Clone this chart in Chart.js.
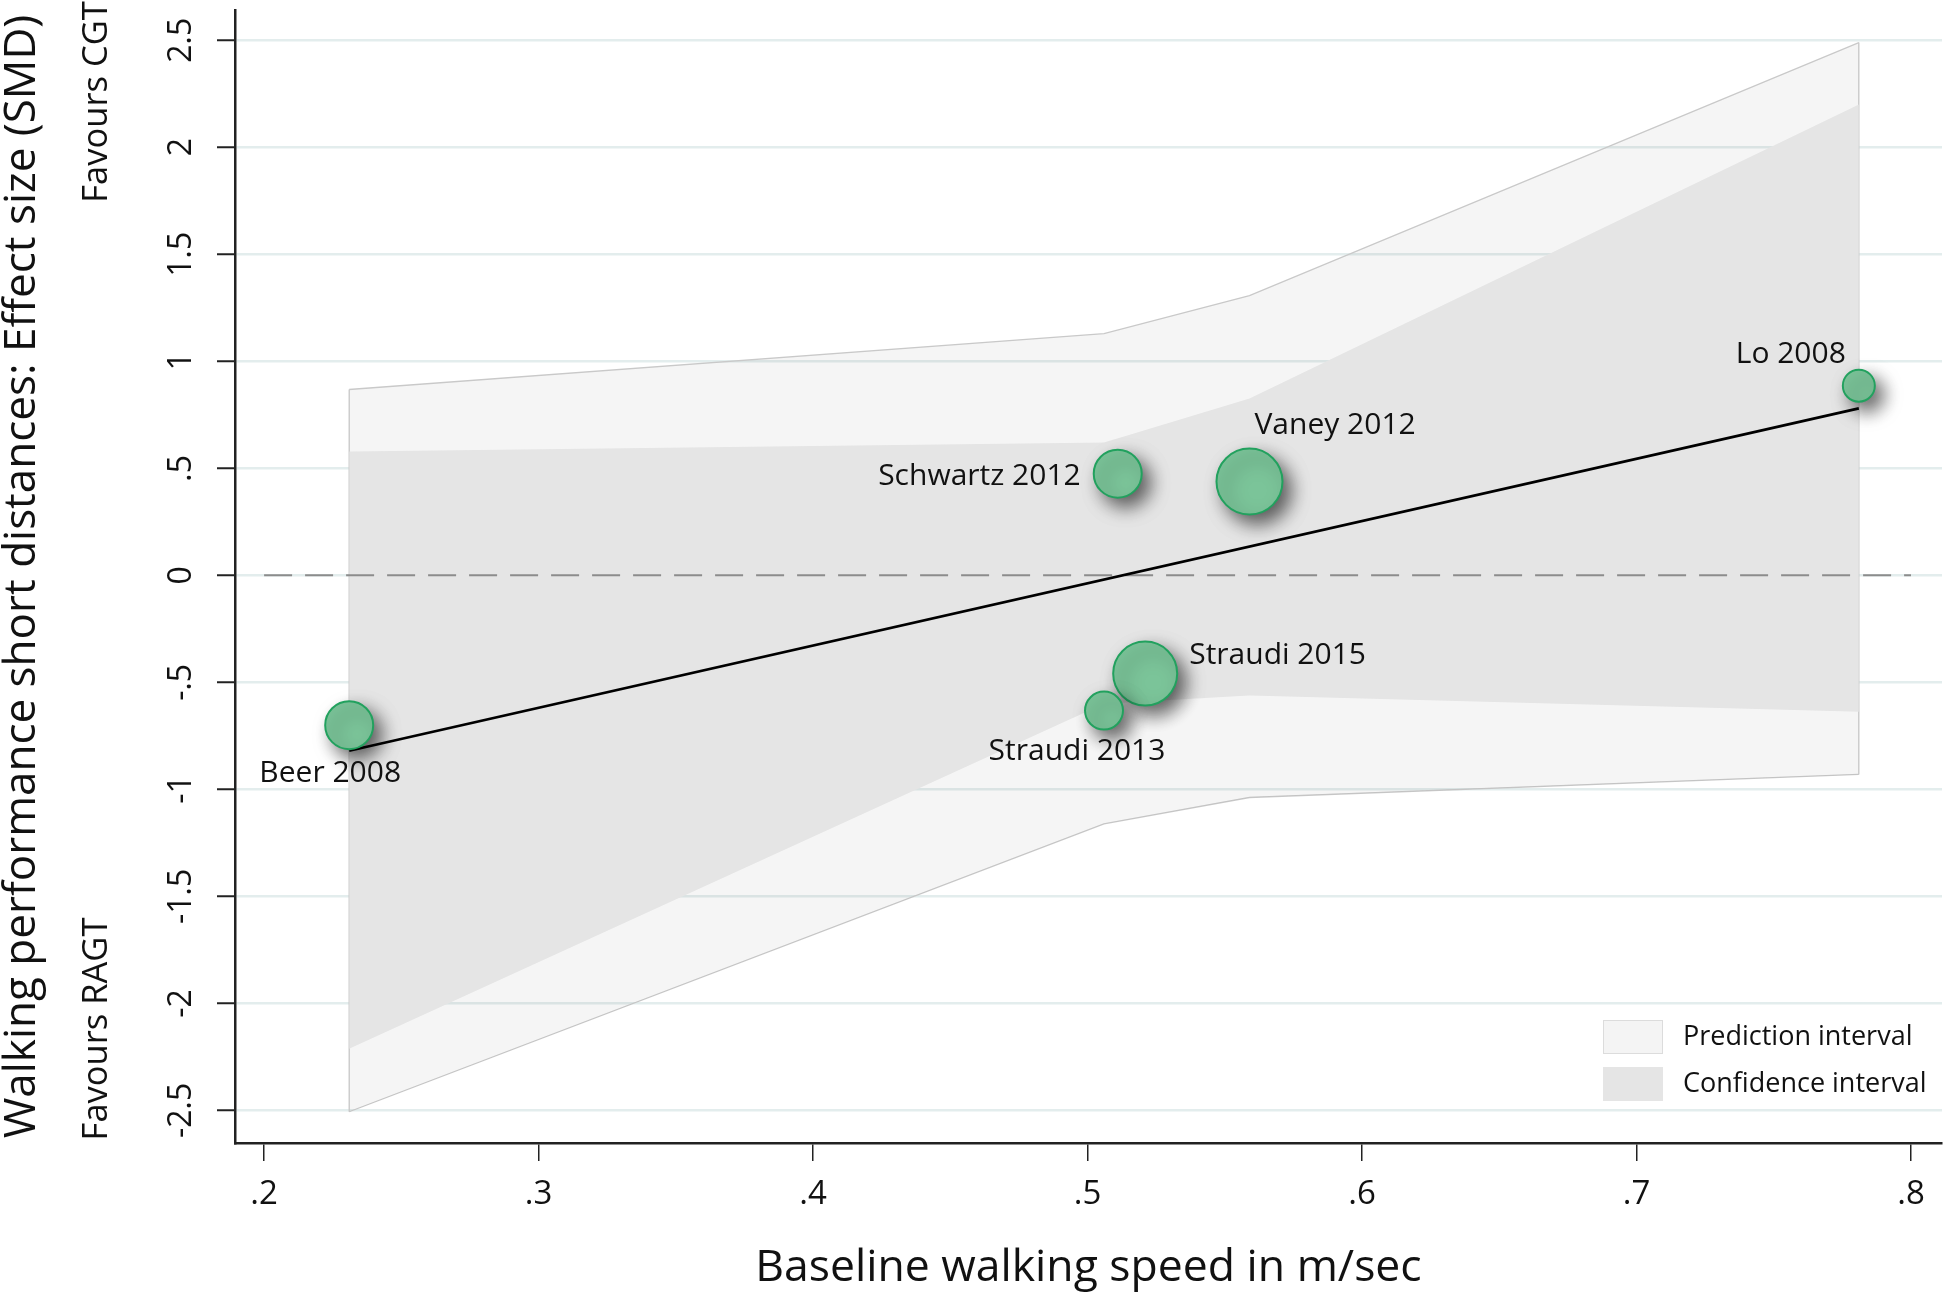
<!DOCTYPE html>
<html>
<head>
<meta charset="utf-8">
<script src="https://cdn.jsdelivr.net/npm/chart.js@4/dist/chart.umd.min.js"></script>
<style>
  html, body { margin: 0; padding: 0; background: #fff; }
  #wrap { width: 1946px; height: 1294px; }
</style>
</head>
<body>
<div id="wrap"><canvas id="meta-reg" width="1946" height="1294"></canvas></div>
<script>
// studies in the meta-regression
var studies = ['Beer 2008', 'Schwartz 2012', 'Vaney 2012', 'Lo 2008', 'Straudi 2015', 'Straudi 2013'];
var speed = [0.231, 0.511, 0.559, 0.781, 0.521, 0.506];      // baseline walking speed, m/sec
var smd = [-0.70, 0.475, 0.438, 0.886, -0.459, -0.632];      // effect size
var studyWeight = [24, 24, 33, 16, 32, 19];                  // bubble size

// fitted line
var fitX = [0.231, 0.781];
var fitY = [-0.82, 0.78];

// bands, read at the kinks
var bandX = [0.231, 0.506, 0.559, 0.781];
var piUpper = [0.868, 1.129, 1.307, 2.489];
var piLower = [-2.506, -1.161, -1.038, -0.93];
var ciUpper = [0.578, 0.620, 0.826, 2.20];
var ciLower = [-2.212, -0.60, -0.562, -0.637];

// reference line at no effect
var zeroX = [0.2, 0.8];

var legendLabels = ['Prediction interval', 'Confidence interval'];
var sideNotes = ['Favours CGT', 'Favours RAGT'];

var FONT = "'Open Sans', 'Noto Sans', sans-serif";

function pts(xs, ys) {
  var out = [];
  for (var i = 0; i < xs.length; i++) out.push({x: xs[i], y: ys[i]});
  return out;
}

// stata style numbers: .5, -.5, 2
function fmt(v) {
  if (Math.abs(v) < 1e-9) return '0';
  var s = String(+v.toFixed(2));
  return s.replace(/^(-?)0\./, '$1.');
}

// label offsets from bubble centre (px) and alignment
var labelPlace = [
  {dx: -19, dy: 48, align: 'center'},
  {dx: -37, dy: 3, align: 'right'},
  {dx: 5, dy: -56, align: 'left'},
  {dx: -13, dy: -31, align: 'right'},
  {dx: 44, dy: -18, align: 'left'},
  {dx: -27, dy: 41, align: 'center'}
];

var bubbleShadow = {
  id: 'bubbleShadow',
  beforeDatasetDraw: function(chart, args) {
    if (args.index !== 0) return;
    var ctx = chart.ctx;
    ctx.save();
    ctx.shadowColor = 'rgba(0,0,0,0.6)';
    ctx.shadowBlur = 18;
    ctx.shadowOffsetX = 8;
    ctx.shadowOffsetY = 9;
  },
  afterDatasetDraw: function(chart, args) {
    if (args.index !== 0) return;
    chart.ctx.restore();
  }
};

var extras = {
  id: 'extras',
  afterDraw: function(chart) {
    var ctx = chart.ctx;
    var xs = chart.scales.x, ys = chart.scales.y;
    var i;

    // study labels
    ctx.save();
    ctx.fillStyle = '#111';
    ctx.font = '30px ' + FONT;
    ctx.textBaseline = 'middle';
    for (i = 0; i < studies.length; i++) {
      var px = xs.getPixelForValue(speed[i]);
      var py = ys.getPixelForValue(smd[i]);
      ctx.textAlign = labelPlace[i].align;
      ctx.fillText(studies[i], px + labelPlace[i].dx, py + labelPlace[i].dy);
    }
    ctx.restore();

    // favours notes, rotated
    ctx.save();
    ctx.fillStyle = '#111';
    ctx.font = '34.5px ' + FONT;
    ctx.textAlign = 'center';
    ctx.textBaseline = 'middle';
    var noteY = [102, 1029];
    for (i = 0; i < sideNotes.length; i++) {
      ctx.save();
      ctx.translate(97, noteY[i]);
      ctx.rotate(-Math.PI / 2);
      ctx.fillText(sideNotes[i], 0, 0);
      ctx.restore();
    }
    ctx.restore();

    // legend
    ctx.save();
    var boxFill = ['#f4f4f4', '#e5e5e5'];
    var boxLine = ['#dcdcdc', null];
    var rowY = [1037, 1084];
    ctx.font = '27px ' + FONT;
    ctx.textBaseline = 'middle';
    ctx.textAlign = 'left';
    for (i = 0; i < legendLabels.length; i++) {
      ctx.fillStyle = boxFill[i];
      ctx.fillRect(1603, rowY[i] - 17, 60, 34);
      if (boxLine[i]) {
        ctx.strokeStyle = boxLine[i];
        ctx.lineWidth = 1;
        ctx.strokeRect(1603.5, rowY[i] - 16.5, 59, 33);
      }
      ctx.fillStyle = '#111';
      ctx.fillText(legendLabels[i], 1683, rowY[i]);
    }
    ctx.restore();
  }
};

new Chart(document.getElementById('meta-reg'), {
  type: 'line',
  data: {
    datasets: [
      {
        type: 'bubble',
        data: speed.map(function(x, i) { return {x: x, y: smd[i], r: studyWeight[i]}; }),
        backgroundColor: '#7bc499',
        borderColor: '#22a15e',
        borderWidth: 2,
        order: 0
      },
      {
        data: pts(fitX, fitY),
        borderColor: '#000',
        borderWidth: 2.6,
        pointRadius: 0,
        fill: false,
        order: 1
      },
      {
        data: pts(zeroX, [0, 0]),
        borderColor: '#8c8c8c',
        borderWidth: 2,
        borderDash: [28, 13],
        pointRadius: 0,
        fill: false,
        order: 2
      },
      {
        data: pts(bandX, ciUpper),
        borderWidth: 0,
        pointRadius: 0,
        backgroundColor: '#e5e5e5',
        fill: '+1',
        order: 3
      },
      {
        data: pts(bandX, ciLower),
        borderWidth: 0,
        pointRadius: 0,
        fill: false,
        order: 3
      },
      {
        data: pts(bandX, piUpper),
        borderColor: '#c9c9c9',
        borderWidth: 1.3,
        pointRadius: 0,
        backgroundColor: 'rgba(0,0,0,0.04)',
        fill: '+1',
        order: 4
      },
      {
        data: pts(bandX, piLower),
        borderColor: '#c9c9c9',
        borderWidth: 1.3,
        pointRadius: 0,
        fill: false,
        order: 4
      },
      {
        data: pts([bandX[0], bandX[0]], [piLower[0], piUpper[0]]),
        borderColor: '#c9c9c9',
        borderWidth: 1.3,
        pointRadius: 0,
        fill: false,
        order: 4
      },
      {
        data: pts([bandX[3], bandX[3]], [piLower[3], piUpper[3]]),
        borderColor: '#c9c9c9',
        borderWidth: 1.3,
        pointRadius: 0,
        fill: false,
        order: 4
      }
    ]
  },
  options: {
    responsive: false,
    animation: false,
    events: [],
    layout: { autoPadding: false, padding: { top: 10, right: 4, left: 0, bottom: 0 } },
    plugins: {
      legend: { display: false },
      tooltip: { enabled: false }
    },
    scales: {
      x: {
        type: 'linear',
        min: 0.1894,
        max: 0.8113,
        afterFit: function(s) { s.height = 151; s.paddingLeft = 0; s.paddingRight = 0; },
        border: { display: true, color: '#222', width: 2.5 },
        grid: { drawOnChartArea: false, tickLength: 18, tickColor: '#222', tickWidth: 1.5, lineWidth: 1.5 },
        ticks: {
          stepSize: 0.1,
          includeBounds: false,
          padding: 14,
          color: '#111',
          font: { family: FONT, size: 33 },
          maxRotation: 0,
          callback: function(v) { return fmt(v); }
        },
        title: {
          display: true,
          text: 'Baseline walking speed in m/sec',
          color: '#111',
          font: { family: FONT, size: 44.5, lineHeight: 1 },
          padding: { top: 0, bottom: 3 }
        }
      },
      y: {
        type: 'linear',
        min: -2.652,
        max: 2.641,
        afterFit: function(s) { s.width = 235; s.paddingTop = 0; s.paddingBottom = 0; },
        border: { display: true, color: '#222', width: 2.5 },
        grid: { color: '#e3eded', lineWidth: 2.5, tickLength: 18, tickColor: '#222', tickWidth: 2 },
        ticks: {
          stepSize: 0.5,
          includeBounds: false,
          padding: 7,
          minRotation: 90,
          maxRotation: 90,
          crossAlign: 'center',
          color: '#111',
          font: { family: FONT, size: 32 },
          callback: function(v) { return fmt(v); }
        },
        title: {
          display: true,
          text: 'Walking performance short distances: Effect size (SMD)',
          color: '#111',
          font: { family: FONT, size: 44, lineHeight: 1 },
          padding: { top: 0, bottom: 0 }
        }
      }
    }
  },
  plugins: [bubbleShadow, extras]
});
</script>
</body>
</html>
